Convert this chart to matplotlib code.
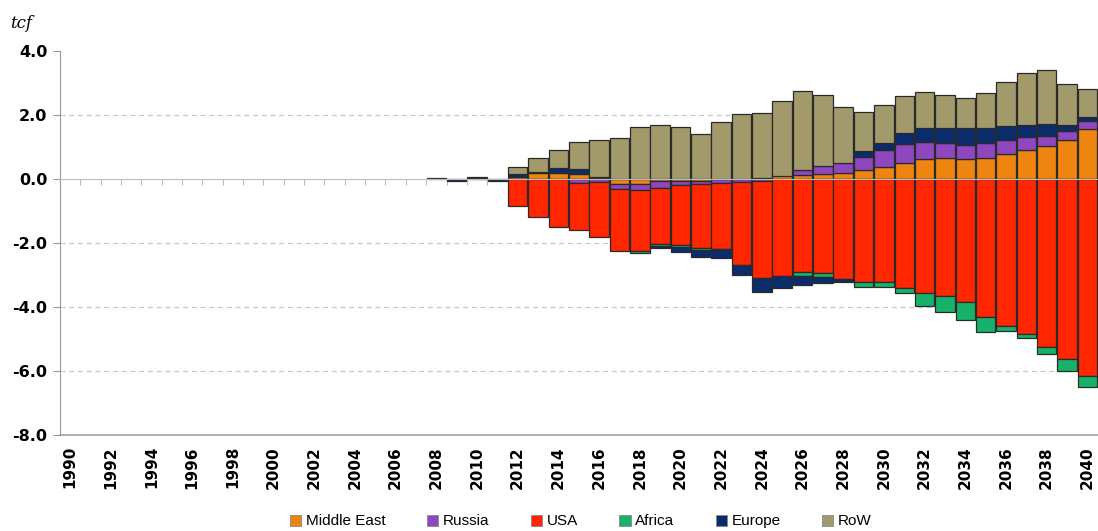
import matplotlib
matplotlib.use("Agg")
import matplotlib.pyplot as plt
from matplotlib.patches import Patch
import numpy as np

# years on the axis
years = list(range(1990, 2041))

# 1990-2007 are all zero, values below run 2008..2040 (tcf)
zeros = [0.0] * 18
middle_east = zeros + [0, 0, 0, 0, 0.05, 0.20, 0.18, 0.17, 0.03, -0.16, -0.15, -0.07, -0.07,
                       -0.05, 0, 0, 0.03, 0.10, 0.12, 0.16, 0.18, 0.28, 0.36, 0.49, 0.61, 0.65,
                       0.61, 0.65, 0.78, 0.91, 1.04, 1.22, 1.55]
russia = zeros + [0, 0, 0, 0, 0, 0, 0, -0.12, -0.08, -0.16, -0.20, -0.20, -0.12, -0.10, -0.12,
                  -0.08, -0.05, 0, 0.16, 0.23, 0.33, 0.42, 0.56, 0.60, 0.56, 0.47, 0.45, 0.47,
                  0.44, 0.41, 0.31, 0.29, 0.26]
usa = zeros + [0, 0, 0, 0, -0.84, -1.20, -1.49, -1.47, -1.72, -1.93, -1.90, -1.76, -1.87, -2.00,
               -2.06, -2.61, -3.05, -3.03, -2.92, -2.95, -3.12, -3.21, -3.21, -3.40, -3.57,
               -3.65, -3.85, -4.33, -4.61, -4.85, -5.24, -5.63, -6.15]
africa = zeros + [0, 0, 0, 0, 0, 0, 0, 0, 0, 0, -0.07, -0.07, -0.07, -0.07, 0, 0, 0, 0, -0.11,
                  -0.10, 0, -0.18, -0.18, -0.17, -0.40, -0.50, -0.56, -0.44, -0.14, -0.13,
                  -0.24, -0.36, -0.34]
europe = zeros + [0.04, -0.07, 0.03, -0.06, 0.10, 0.03, 0.15, 0.15, 0.03, 0, 0, -0.07, -0.15,
                  -0.23, -0.29, -0.31, -0.44, -0.39, -0.30, -0.19, -0.10, 0.18, 0.21, 0.35,
                  0.42, 0.47, 0.52, 0.47, 0.44, 0.36, 0.36, 0.18, 0.14]
row = zeros + [0, 0, 0.02, 0, 0.23, 0.42, 0.58, 0.85, 1.16, 1.29, 1.61, 1.69, 1.61, 1.41, 1.77,
               2.02, 2.02, 2.35, 2.48, 2.24, 1.75, 1.21, 1.18, 1.15, 1.14, 1.04, 0.94, 1.11,
               1.37, 1.62, 1.70, 1.28, 0.86]

names = ["Middle East", "Russia", "USA", "Africa", "Europe", "RoW"]
series = [middle_east, russia, usa, africa, europe, row]
colors = ["#EE8510", "#8E47BE", "#FF2600", "#17B26A", "#0B2C6C", "#A39A6C"]

fig = plt.figure(figsize=(10.98, 5.31), dpi=100)
ax = fig.add_axes([0.0546, 0.181, 0.945, 0.723])

x = np.array(years)
pos_base = np.zeros(len(years))
neg_base = np.zeros(len(years))
for vals, col in zip(series, colors):
    v = np.array(vals, dtype=float)
    p = np.where(v > 0, v, 0)
    n = np.where(v < 0, v, 0)
    # positive and negative parts stack separately, skip empty segments
    for part, base in ((p, pos_base), (n, neg_base)):
        m = part != 0
        ax.bar(x[m], part[m], bottom=base[m], width=0.96, color=col,
               edgecolor="#2a2a2a", linewidth=0.9)
    pos_base += p
    neg_base += n

ax.set_xlim(1989.6, 2040.45)
ax.set_ylim(-8, 4)
ax.set_yticks([4, 2, 0, -2, -4, -6, -8])
ax.set_yticklabels([f"{t:.1f}" for t in [4, 2, 0, -2, -4, -6, -8]],
                   fontsize=11.5, fontweight="bold")
ax.tick_params(axis="y", length=5, color="#999999", pad=4)

# dashed grid, hidden at the frame edges
ax.yaxis.grid(True, linestyle=(0, (4, 3)), color="#c8c8c8", linewidth=0.9)
ax.set_axisbelow(True)
for gl, t in zip(ax.get_ygridlines(), ax.get_yticks()):
    if t in (4, -8, 0):
        gl.set_visible(False)
# solid frame line along the bottom
ax.axhline(-8, color="#a0a0a0", linewidth=1.2, clip_on=False)

# zero line with small ticks between bars
for s in ("top", "right"):
    ax.spines[s].set_visible(False)
ax.spines["left"].set_color("#999999")
ax.spines["bottom"].set_position(("data", 0))
ax.spines["bottom"].set_color("#bbbbbb")
ax.spines["bottom"].set_zorder(3)
ax.set_xticks(np.arange(1989.5, 2040.6, 1))
ax.tick_params(axis="x", length=4, color="#bbbbbb", labelbottom=False)

sec = ax.secondary_xaxis("bottom")
sec.set_xticks(years[::2])
sec.set_xticklabels([str(y) for y in years[::2]], rotation=90,
                    fontsize=11, fontweight="bold")
sec.tick_params(length=0, pad=8)
sec.spines["bottom"].set_visible(False)

fig.text(0.009, 0.955, "tcf", fontsize=12, style="italic", family="DejaVu Serif",
         va="center", ha="left")

handles = [Patch(facecolor=c, edgecolor="#888888", linewidth=0.6) for c in colors]
fig.legend(handles, names, loc="center", bbox_to_anchor=(0.529, 0.018), ncol=6,
           frameon=False, handlelength=0.75, handleheight=0.75,
           handletextpad=0.3, columnspacing=2.7, prop={"family": "Liberation Sans", "size": 11})

fig.savefig("out.png", dpi=100)
